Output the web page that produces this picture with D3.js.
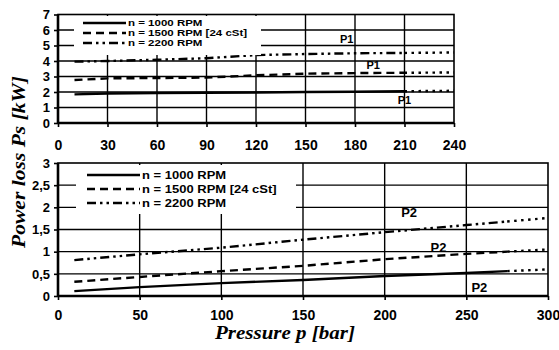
<!DOCTYPE html>
<html><head><meta charset="utf-8">
<script src="https://cdn.jsdelivr.net/npm/d3@7"></script>
<style>
html,body{margin:0;padding:0;background:#fff;}
svg{display:block;}
</style></head>
<body>
<svg id="c" width="559" height="350"></svg>
<script>
// ---------- data ----------
const seriesNames = ["n = 1000 RPM", "n = 1500 RPM [24 cSt]", "n = 2200 RPM"];
// top chart (P1)
const topXTicks = [0,30,60,90,120,150,180,210,240];
const topYTicks = [0,1,2,3,4,5,6,7];
const topP = [10,30,60,90,120,150,180,210];
const top1000 = [1.85,1.9,1.93,1.95,1.97,2.0,2.02,2.05];
const top1500 = [2.77,2.88,2.9,2.93,3.08,3.18,3.22,3.24];
const top2200 = [3.96,4.0,4.08,4.18,4.38,4.45,4.5,4.52];
const topExtP = [210,240];
const topExt1000 = [2.05,2.08];
const topExt1500 = [3.24,3.26];
const topExt2200 = [4.52,4.55];
const topLabelX = [175,191,210];
const topLabelY = [5.4,3.75,1.5];
const topLabelText = ["P1","P1","P1"];
// bottom chart (P2)
const botXTicks = [0,50,100,150,200,250,300];
const botYTicks = [0,0.5,1,1.5,2,2.5,3];
const botP = [10,50,100,150,200,250,275];
const bot1000 = [0.11,0.2,0.29,0.36,0.45,0.52,0.56];
const bot1500 = [0.32,0.43,0.56,0.68,0.83,0.95,1.0];
const bot2200 = [0.81,0.94,1.09,1.27,1.44,1.6,1.68];
const botExtP = [275,300];
const botExt1000 = [0.56,0.6];
const botExt1500 = [1.0,1.05];
const botExt2200 = [1.68,1.76];
const botLabelX = [215,233,258];
const botLabelY = [1.88,1.1,0.2];
const botLabelText = ["P2","P2","P2"];

// ---------- drawing ----------
const svg = d3.select("#c");
const dashes = [null, "8,5", "9,4,2.5,4,2.5,4"];
const dotted = "2.5,4.5";
const fmt = d => String(d).replace(".", ",");

function chart(cfg){
  const g = svg.append("g");
  const x = d3.scaleLinear().domain(cfg.xd).range(cfg.xr);
  const y = d3.scaleLinear().domain(cfg.yd).range(cfg.yr);
  // gridlines
  g.append("g").selectAll("line").data(cfg.yTicks.slice(1, -1)).join("line")
    .attr("x1", x(cfg.xd[0])).attr("x2", x(cfg.xd[1]))
    .attr("y1", d => y(d)).attr("y2", d => y(d))
    .attr("stroke", "#000").attr("stroke-width", 1.4);
  g.append("g").selectAll("line").data(cfg.xTicks.slice(1, -1)).join("line")
    .attr("y1", y(cfg.yd[0])).attr("y2", y(cfg.yd[1]))
    .attr("x1", d => x(d)).attr("x2", d => x(d))
    .attr("stroke", "#000").attr("stroke-width", 1.4);
  // series
  const line = d3.line().x(d => x(d[0])).y(d => y(d[1]));
  cfg.series.forEach((s, i) => {
    g.append("path").datum(d3.zip(cfg.p, s)).attr("d", line)
      .attr("fill", "none").attr("stroke", "#000").attr("stroke-width", 2.4)
      .attr("stroke-dasharray", dashes[i]);
    g.append("path").datum(d3.zip(cfg.extP, cfg.ext[i])).attr("d", line)
      .attr("fill", "none").attr("stroke", "#000").attr("stroke-width", 2.4)
      .attr("stroke-dasharray", dotted);
  });
  // legend
  const L = cfg.legend;
  g.append("rect").attr("x", L.x0).attr("y", L.y0).attr("width", L.x1 - L.x0).attr("height", L.y1 - L.y0)
    .attr("fill", "#fff");
  seriesNames.forEach((n, i) => {
    const yy = L.rows[i];
    g.append("line").attr("x1", L.sx0).attr("x2", L.sx1).attr("y1", yy).attr("y2", yy)
      .attr("stroke", "#000").attr("stroke-width", 2.4).attr("stroke-dasharray", dashes[i]);
    g.append("text").attr("transform", `translate(${L.sx1 + 2},${yy}) scale(1,${L.sy})`)
      .attr("dy", "0.36em")
      .attr("font-family", "Liberation Sans, Arial, sans-serif").attr("font-weight", "bold")
      .attr("font-size", L.fs).text(n);
  });
  // point labels
  cfg.lx.forEach((lx, i) => {
    g.append("text").attr("x", x(lx)).attr("y", y(cfg.ly[i])).attr("dy", "0.36em")
      .attr("text-anchor", "middle")
      .attr("font-family", "Liberation Sans, Arial, sans-serif").attr("font-weight", "bold")
      .attr("font-size", cfg.lfs).text(cfg.lt[i]);
  });
  // frame
  g.append("rect").attr("x", x(cfg.xd[0])).attr("y", y(cfg.yd[1]))
    .attr("width", x(cfg.xd[1]) - x(cfg.xd[0])).attr("height", y(cfg.yd[0]) - y(cfg.yd[1]))
    .attr("fill", "none").attr("stroke", "#000").attr("stroke-width", 1.6);
  g.append("line").attr("x1", x(cfg.xd[0])).attr("x2", x(cfg.xd[1]))
    .attr("y1", y(0)).attr("y2", y(0)).attr("stroke", "#000").attr("stroke-width", 2.6);
  g.append("line").attr("x1", x(0)).attr("x2", x(0))
    .attr("y1", y(cfg.yd[0])).attr("y2", y(cfg.yd[1])).attr("stroke", "#000").attr("stroke-width", 2.6);
  // axes
  const ax = g.append("g").attr("transform", `translate(0,${y(cfg.yd[0])})`)
    .call(d3.axisBottom(x).tickValues(cfg.xTicks).tickSize(4).tickPadding(cfg.xpad).tickFormat(fmt));
  const ay = g.append("g").attr("transform", `translate(${x(cfg.xd[0])},0)`)
    .call(d3.axisLeft(y).tickValues(cfg.yTicks).tickSize(4).tickPadding(4).tickFormat(fmt));
  [ax, ay].forEach(a => {
    a.select(".domain").remove();
    a.selectAll(".tick line").attr("stroke", "#000").attr("stroke-width", 1.6);
    a.selectAll("text").attr("font-family", "Liberation Sans, Arial, sans-serif")
      .attr("font-weight", "bold").attr("fill", "#000");
  });
  ax.selectAll("text").attr("font-size", 14);
  ay.selectAll("text").attr("font-size", 13);
}

chart({
  xd:[0,240], xr:[58,454], yd:[0,7], yr:[123,14.5],
  xTicks: topXTicks, yTicks: topYTicks, xpad: 13,
  p: topP, series: [top1000, top1500, top2200],
  extP: topExtP, ext: [topExt1000, topExt1500, topExt2200],
  legend: {x0:74, x1:261, y0:16, y1:55, rows:[23,33,43], sx0:83, sx1:126, fs:11.5, sy:0.74},
  lx: topLabelX, ly: topLabelY, lt: topLabelText, lfs: 11
});
chart({
  xd:[0,300], xr:[58,548], yd:[0,3], yr:[296,163],
  xTicks: botXTicks, yTicks: botYTicks, xpad: 10,
  p: botP, series: [bot1000, bot1500, bot2200],
  extP: botExtP, ext: [botExt1000, botExt1500, botExt2200],
  legend: {x0:76, x1:296, y0:165, y1:214, rows:[175,189,203], sx0:87, sx1:140, fs:13, sy:0.9},
  lx: botLabelX, ly: botLabelY, lt: botLabelText, lfs: 13
});

// axis titles
svg.append("text").attr("x", 285).attr("y", 339).attr("text-anchor", "middle")
  .attr("font-family", "Liberation Serif, serif").attr("font-style", "italic").attr("font-weight", "bold")
  .attr("font-size", 18).attr("textLength", 140).attr("lengthAdjust", "spacingAndGlyphs")
  .text("Pressure p [bar]");
svg.append("text").attr("transform", "translate(25,162) rotate(-90)").attr("text-anchor", "middle")
  .attr("font-family", "Liberation Serif, serif").attr("font-style", "italic").attr("font-weight", "bold")
  .attr("font-size", 19).attr("textLength", 172).attr("lengthAdjust", "spacingAndGlyphs")
  .text("Power loss Ps [kW]");
</script>
</body></html>
